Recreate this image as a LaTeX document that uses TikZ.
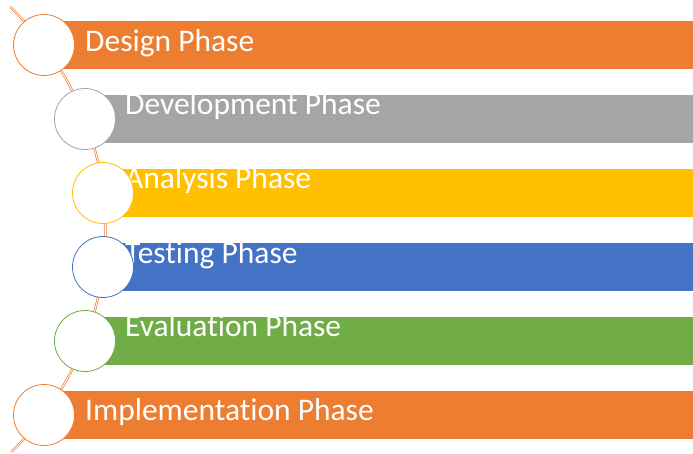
\documentclass[tikz,border=0pt]{standalone}
\usepackage{fontspec}
\setmainfont{Carlito}[Ligatures=NoCommon]
\definecolor{phOrange}{HTML}{ED7D31}
\definecolor{phGray}{HTML}{A5A5A5}
\definecolor{phGold}{HTML}{FFC000}
\definecolor{phBlue}{HTML}{4472C4}
\definecolor{phGreen}{HTML}{70AD47}
\begin{document}
\begin{tikzpicture}[x=1pt,y=1pt,
  bar/.style={rectangle,anchor=west,inner sep=0pt,minimum width=650pt,minimum height=48pt},
  dot/.style={circle,fill=white,line width=0.8pt,inner sep=0pt,minimum size=61pt},
  lbl/.style={anchor=base west,inner sep=0pt,text=white,font=\fontsize{31.5}{37}\selectfont},
  track/.style={draw=phOrange,double=white,line width=0.7pt,double distance=0.9pt}]
\useasboundingbox (0,0) rectangle (693,453);

\coordinate (ctr) at (-203,223);
\draw[track] (ctr) ++(-46:308.5pt) coordinate (tail)
  arc[start angle=-46,end angle=46.3,radius=308.5pt] coordinate (head);

\node[bar,fill=phOrange] (b1) at (44,408) {};
\node[bar,fill=phGray] (b2) at (85,334) {};
\node[bar,fill=phGold] (b3) at (103,260) {};
\node[bar,fill=phBlue] (b4) at (103,186) {};
\node[bar,fill=phGreen] (b5) at (85,112) {};
\node[bar,fill=phOrange] (b6) at (44,38) {};

\node[lbl] (t1) at (85,401.3) {Design Phase};
\node[lbl] (t2) at (125,338) {Development Phase};
\node[lbl] (t3) at (125,264.7) {Analysis Phase};
\node[lbl] (t4) at (125,189.7) {Testing Phase};
\node[lbl] (t5) at (125,116.3) {Evaluation Phase};
\node[lbl] (t6) at (85,33) {Implementation Phase};

\node[dot,draw=phOrange] (c1) at (b1.west) {};
\node[dot,draw=phGray] (c2) at (b2.west) {};
\node[dot,draw=phGold] (c3) at (b3.west) {};
\node[dot,draw=phBlue] (c4) at (b4.west) {};
\node[dot,draw=phGreen] (c5) at (b5.west) {};
\node[dot,draw=phOrange] (c6) at (b6.west) {};
\end{tikzpicture}
\end{document}
